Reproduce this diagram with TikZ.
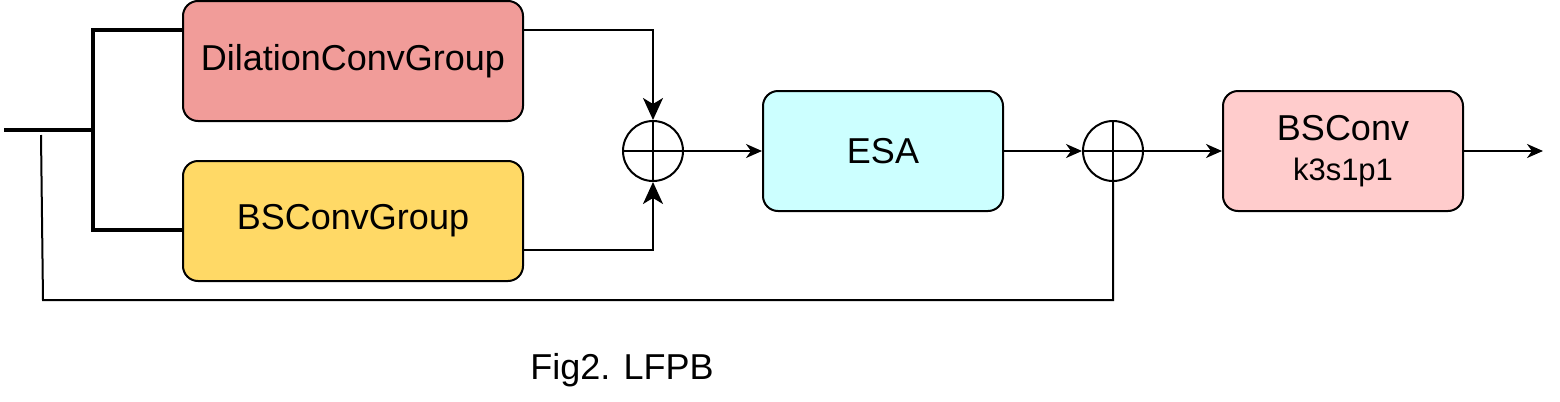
\documentclass[tikz,border=0pt]{standalone}
\usepackage{fontspec}
\setmainfont{Liberation Sans}
\usepackage{tikz}
\usetikzlibrary{positioning, arrows.meta}

\definecolor{dilationred}{HTML}{F19C99}
\definecolor{groupyellow}{HTML}{FFD966}
\definecolor{esacyan}{HTML}{CCFFFF}
\definecolor{convpink}{HTML}{FFCCCC}

\tikzset{
  blockbox/.style={draw, line width=1pt, rounded corners=7.5pt, minimum width=170pt,
    minimum height=60pt, inner sep=0pt, align=center, font=\fontsize{18}{20}\selectfont},
  sumnode/.style={draw, circle, line width=1pt, minimum size=30pt, inner sep=0pt,
    path picture={\draw[line width=1pt] (path picture bounding box.north) -- (path picture bounding box.south)
      (path picture bounding box.west) -- (path picture bounding box.east);}},
  flow/.style={line width=1pt, -{Stealth[length=8pt,width=7pt,inset=2.5pt]}},
  bigflow/.style={line width=1pt, -{Stealth[length=11pt,width=10pt,inset=3pt]}},
  branch/.style={line width=1.6pt},
}

\begin{document}
\begin{tikzpicture}[x=0.5pt,y=-0.5pt]
\useasboundingbox (0,0) rectangle (1560,402);
% blocks
\node[blockbox, fill=dilationred] (dcg) at (353,61) {DilationConvGroup};
\node[blockbox, fill=groupyellow] (bcg) at (353,221) {BSConvGroup};
\node[sumnode] (sum1) at (653,151) {};
\node[blockbox, minimum width=120pt, fill=esacyan] (esa) at (883,151) {ESA};
\node[sumnode] (sum2) at (1113,151) {};
\node[blockbox, minimum width=120pt, fill=convpink] (bsc) at (1343,151) {BSConv\\{\fontsize{15.5}{18}\selectfont k3s1p1}};
\node[font=\fontsize{18}{20}\selectfont] (cap) at (622,370) {Fig2. LFPB};
% free ends
\coordinate (in) at (4,130);
\coordinate (split) at (93,130);
\coordinate (out) at (1543,151);
\coordinate (skipstart) at (41,135);
\coordinate (skipcorner) at (43,300);
% input split
\draw[branch] (in) -- (split);
\draw[branch] ([yshift=15.5pt]dcg.west) -| (split) |- ([yshift=-4.5pt]bcg.west);
% into the first sum
\draw[bigflow] ([yshift=15.5pt]dcg.east) -| (sum1.north);
\draw[bigflow] ([yshift=-14.5pt]bcg.east) -| (sum1.south);
% main path
\draw[flow] (sum1.east) -- (esa.west);
\draw[flow] (esa.east) -- (sum2.west);
\draw[flow] (sum2.east) -- (bsc.west);
\draw[flow] (bsc.east) -- (out);
% skip connection
\draw[line width=1pt] (skipstart) -- (skipcorner) -| (sum2.south);
\end{tikzpicture}
\end{document}
